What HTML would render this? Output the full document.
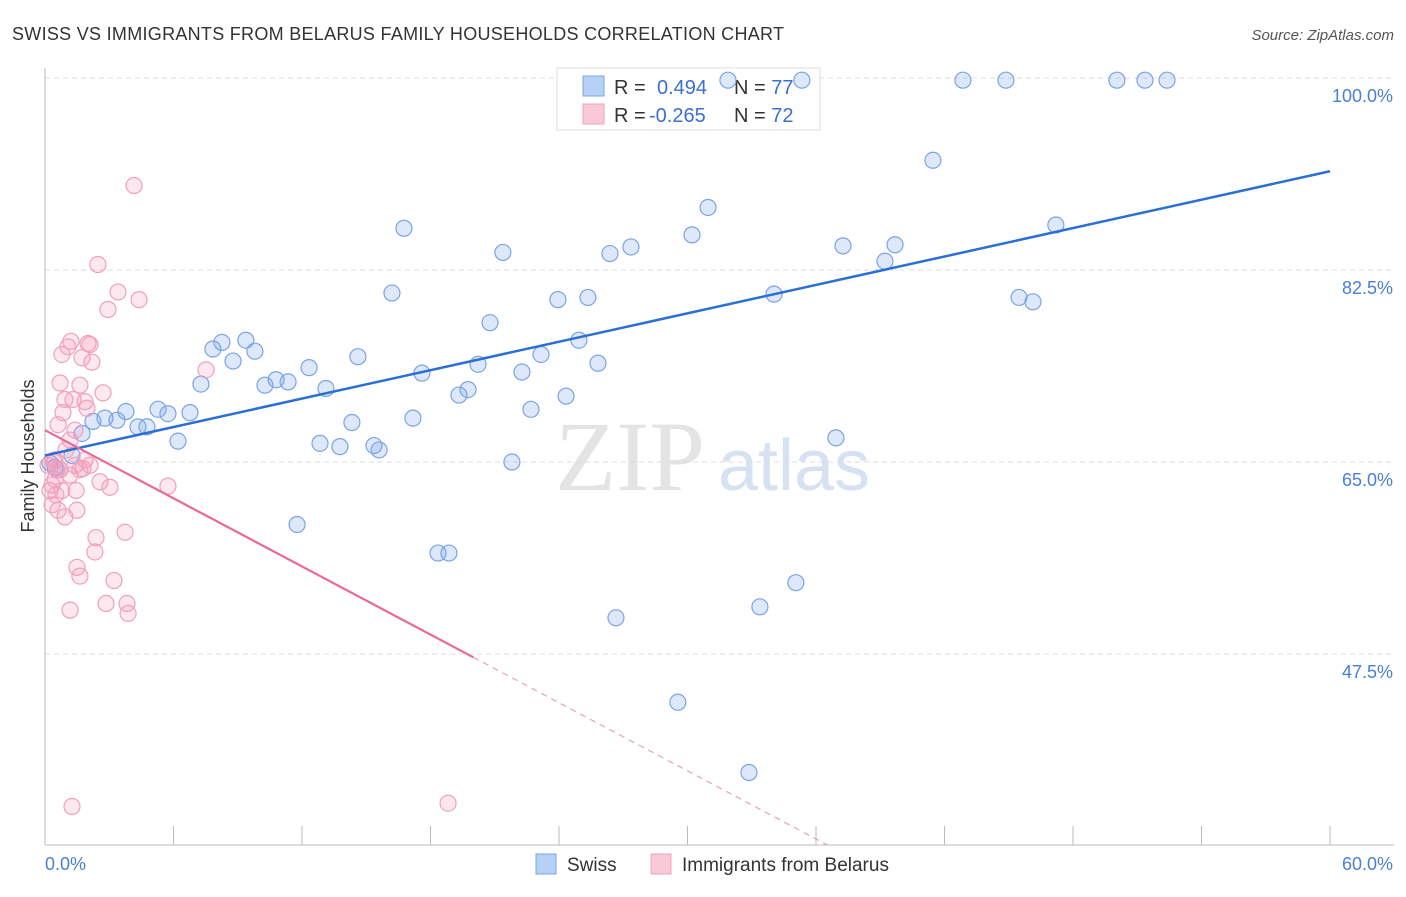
<!DOCTYPE html>
<html><head><meta charset="utf-8"><style>
body{margin:0;background:#fff;width:1406px;height:892px;overflow:hidden;font-family:"Liberation Sans",sans-serif}
</style></head><body>
<svg id="chart" width="1406" height="892" xmlns="http://www.w3.org/2000/svg" font-family="Liberation Sans, sans-serif">
<text x="12" y="40" font-size="18" fill="#333" textLength="772">SWISS VS IMMIGRANTS FROM BELARUS FAMILY HOUSEHOLDS CORRELATION CHART</text>
<text x="1394" y="40" font-size="15" fill="#555" text-anchor="end" font-style="italic">Source: ZipAtlas.com</text>
<text x="555" y="490" font-size="100" fill="#e4e4e4" font-family="Liberation Serif, serif">ZIP</text>
<text x="718" y="490" font-size="72" fill="#d6e2f2">atlas</text>
<g id="grid"></g><g id="axes"></g><g id="legend"></g><g id="marks"></g>
<text transform="translate(34,456) rotate(-90)" font-size="18" fill="#333" text-anchor="middle">Family Households</text>
</svg>
<script>
const yTicks=[100,82.5,65,47.5];
const xTickLabels=["0.0%","60.0%"];
const swissX=[0.23,0.47,0.70,1.26,1.73,2.24,2.80,3.36,3.78,4.34,4.76,5.28,5.74,6.21,6.77,7.28,7.84,8.26,8.78,9.38,9.80,10.27,10.79,11.35,11.77,12.33,12.84,13.12,13.77,14.33,14.61,15.36,15.60,16.20,16.76,17.18,17.60,18.35,18.86,19.33,19.75,20.22,20.78,21.38,21.80,22.27,22.69,23.16,23.95,24.33,24.93,25.35,25.82,26.38,26.66,27.36,29.55,30.21,30.96,32.87,33.38,34.04,35.06,35.34,36.93,37.26,39.22,39.69,41.46,42.86,44.87,45.48,46.13,47.20,50.05,51.36,52.39,31.89];
const swissY=[64.9,64.5,64.3,65.6,67.6,68.7,69.0,68.8,69.6,68.2,68.2,69.8,69.4,66.9,69.5,72.1,75.3,75.9,74.2,76.1,75.1,72.0,72.5,72.3,59.3,73.6,66.7,71.7,66.4,68.6,74.6,66.5,66.1,80.4,86.3,69.0,73.1,56.7,56.7,71.1,71.6,73.9,77.7,84.1,65.0,73.2,69.8,74.8,79.8,71.0,76.1,80.0,74.0,84.0,50.8,84.6,43.1,85.7,88.2,36.7,51.8,80.3,54.0,99.8,67.2,84.7,83.3,84.8,92.5,99.8,99.8,80.0,79.6,86.6,99.8,99.8,99.8,99.8];
const belX=[0.14,0.23,0.33,0.47,0.56,0.61,0.70,0.79,0.84,0.93,0.98,1.07,1.17,1.21,1.31,1.40,1.45,1.49,1.49,1.63,1.63,1.73,1.77,1.87,1.96,2.01,2.10,2.19,2.33,2.38,2.47,2.57,2.71,2.85,2.94,3.03,3.22,3.41,3.74,3.83,3.88,4.16,4.39,5.74,7.52,1.26,18.82,1.17,0.47,0.70,0.79,0.61,0.93,1.17,1.40,1.63,1.87,2.10,0.33,0.42,0.51];
const belY=[64.7,62.4,61.1,63.4,64.3,68.4,72.2,74.8,69.5,60.0,66.1,75.5,63.8,76.0,70.7,67.9,62.4,60.6,55.4,54.6,72.0,74.5,64.4,70.5,69.9,75.8,75.7,74.1,56.8,58.1,83.0,63.2,71.3,52.1,78.9,62.7,54.2,80.5,58.6,52.1,51.2,90.2,79.8,62.8,73.4,33.6,33.9,51.5,65.2,64.3,62.4,60.6,70.7,67.0,64.7,64.3,65.2,64.7,62.9,65.0,62.0];
const swissTrend=[65.6,91.5];
const belTrend=[67.9,-1.035];
const NS="http://www.w3.org/2000/svg";
const X=v=>45+v/60*1285, Y=v=>462-(v-65)/17.5*192;
function mk(p,t,a){const e=document.createElementNS(NS,t);for(const k in a)e.setAttribute(k,a[k]);document.getElementById(p).appendChild(e);return e;}
yTicks.forEach(t=>{const l=mk('grid','line',{x1:45,x2:1394,y1:Y(t),y2:Y(t),stroke:'#ddd','stroke-dasharray':'5,4'});


const tx=mk('grid','text',{x:1393,y:Y(t)+24,'font-size':18,fill:'#4a7fd6','text-anchor':'end'});tx.textContent=t.toFixed(1)+'%';

});
mk('axes','line',{x1:45,x2:45,y1:68,y2:845,stroke:'#bbb'});
const xa=mk('axes','line',{x1:45,x2:1394,y1:845,y2:845,stroke:'#bbb'});


for(let i=0;i<=10;i++){const t=mk('axes','line',{x1:X(i*6),x2:X(i*6),y1:826,y2:845,stroke:'#bbb'});

}
[[45,'start',0],[1393,'end',1]].forEach(([x,a,i])=>{const t=mk('axes','text',{x:x,y:870,'font-size':18,fill:'#4a7fd6','text-anchor':a});t.textContent=xTickLabels[i];

});
swissX.forEach((x,i)=>{const c=mk('marks','circle',{cx:X(x),cy:Y(swissY[i]),r:8,fill:'rgba(120,165,235,0.25)',stroke:'#7aa4e4','stroke-width':1.2});

});
belX.forEach((x,i)=>{const c=mk('marks','circle',{cx:X(x),cy:Y(belY[i]),r:8,fill:'rgba(245,150,180,0.22)',stroke:'#f0a0bc','stroke-width':1.2});

});
const bl=mk('marks','line',{x1:X(0),y1:Y(swissTrend[0]),x2:X(60),y2:Y(swissTrend[1]),stroke:'#2a6fd6','stroke-width':2.5});


const pe=20, pb=(Y(30.1)); const xEnd=(30.1-belTrend[0])/belTrend[1];
const pl=mk('marks','line',{x1:X(0),y1:Y(belTrend[0]),x2:X(pe),y2:Y(belTrend[0]+belTrend[1]*pe),stroke:'#e8699a','stroke-width':2.2});


const pd=mk('marks','line',{x1:X(pe),y1:Y(belTrend[0]+belTrend[1]*pe),x2:X(xEnd),y2:pb,stroke:'#e8a0bc','stroke-width':1.2,'stroke-dasharray':'6,5'});


const lb=mk('legend','rect',{x:557,y:68,width:263,height:62,fill:'#fff',stroke:'#ddd'});


[[0,'#b7d0f5','#7aa4e4','0.494','77','swiss'],[1,'#fbc8d8','#f0a0bc','-0.265','72','belarus']].forEach(([i,f,s,r,n,k])=>{
const y=76+i*28;
const sw=mk('legend','rect',{x:583,y:y,width:21,height:20,fill:f,stroke:s});


const t=mk('legend','text',{x:614,y:y+18,'font-size':20,fill:'#333'});
t.innerHTML='R = <tspan fill="#3b6fd4" x="'+(i?649:657)+'">'+r+'</tspan><tspan x="734" fill="#333">N = </tspan><tspan fill="#3b6fd4">'+n+'</tspan>';

});
[[536,'#b7d0f5','#7aa4e4','Swiss','swiss'],[651,'#fbc8d8','#f0a0bc','Immigrants from Belarus','belarus']].forEach(([x,f,s,l,k])=>{
const sw=mk('legend','rect',{x:x,y:854,width:20,height:20,fill:f,stroke:s});


const t=mk('legend','text',{x:x+31,y:871,'font-size':19,fill:'#333'});t.textContent=l;

});
</script>
</body></html>
